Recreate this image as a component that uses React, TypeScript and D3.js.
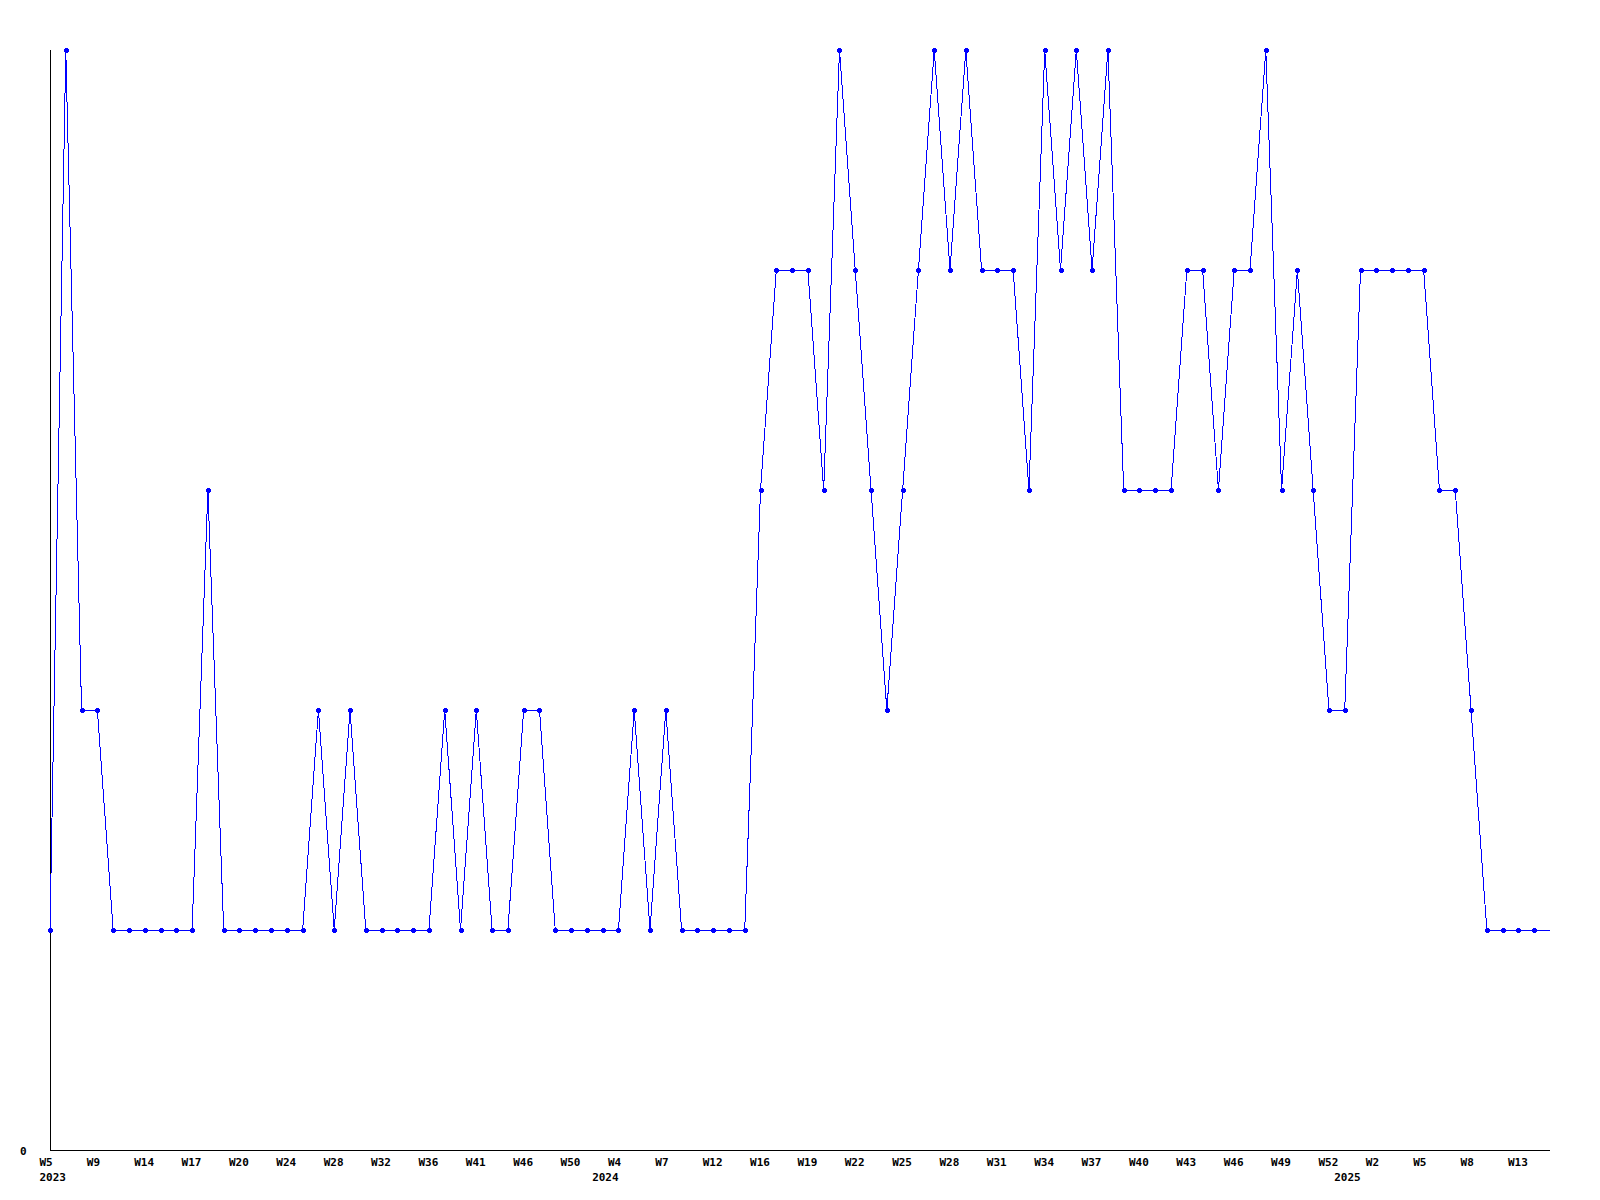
import React from "react";
import * as d3 from "d3";

const values: number[] = [
  1, 5, 2, 2, 1, 1, 1, 1, 1, 1,
  3, 1, 1, 1, 1, 1, 1, 2, 1, 2,
  1, 1, 1, 1, 1, 2, 1, 2, 1, 1,
  2, 2, 1, 1, 1, 1, 1, 2, 1, 2,
  1, 1, 1, 1, 1, 3, 4, 4, 4, 3,
  5, 4, 3, 2, 3, 4, 5, 4, 5, 4,
  4, 4, 3, 5, 4, 5, 4, 5, 3, 3,
  3, 3, 4, 4, 3, 4, 4, 5, 3, 4,
  3, 2, 2, 4, 4, 4, 4, 4, 3, 3,
  2, 1, 1, 1, 1, 1,
];

const weekLabels: string[] = [
  "W5", "W9", "W14", "W17", "W20", "W24", "W28", "W32", "W36", "W41",
  "W46", "W50", "W4", "W7", "W12", "W16", "W19", "W22", "W25", "W28",
  "W31", "W34", "W37", "W40", "W43", "W46", "W49", "W52", "W2", "W5",
  "W8", "W13",
];
const labelEvery = 3;

const yearLabels: { index: number; label: string }[] = [
  { index: 0, label: "2023" },
  { index: 35, label: "2024" },
  { index: 82, label: "2025" },
];

const yTicks: number[] = [0];

export default function App() {
  const W = 1600;
  const H = 1200;
  const left = 50;
  const right = 1550;
  const top = 50;
  const bottom = 1150;

  const x = d3.scaleLinear().domain([0, values.length - 1]).range([left, right]);
  const y = d3.scaleLinear().domain([0, 5]).range([bottom, top]);

  const line = d3
    .line<number>()
    .x((_, i) => x(i))
    .y((d) => y(d));

  const font = "'DejaVu Sans Mono', monospace";

  return (
    <svg
      width={W}
      height={H}
      style={{ position: "absolute", left: 0, top: 0, display: "block", background: "#fff" }}
    >
      <rect x={0} y={0} width={W} height={H} fill="#fff" />
      {/* axes */}
      <line x1={left + 0.5} y1={top} x2={left + 0.5} y2={bottom + 1} stroke="#000" strokeWidth={1} shapeRendering="crispEdges" />
      <line x1={left} y1={bottom + 0.5} x2={right} y2={bottom + 0.5} stroke="#000" strokeWidth={1} shapeRendering="crispEdges" />

      {/* data line */}
      <path d={line(values) || ""} fill="none" stroke="#0000ff" strokeWidth={1} shapeRendering="crispEdges" />
      {values.slice(0, values.length - 1).map((v, i) => {
        const cx = Math.round(x(i));
        const cy = Math.round(y(v));
        return (
          <g key={i} fill="#0000ff">
            <rect x={cx - 2} y={cy - 1} width={5} height={3} />
            <rect x={cx - 1} y={cy - 2} width={3} height={5} />
          </g>
        );
      })}

      {/* y tick labels */}
      {yTicks.map((t) => (
        <text key={t} x={left - 30} y={y(t) + 5} fontFamily={font} fontWeight="bold" fontSize={11} fill="#000">
          {t}
        </text>
      ))}

      {/* x week labels */}
      {weekLabels.map((lab, k) => (
        <text
          key={k}
          x={x(k * labelEvery) - 10.5}
          y={bottom + 16}
          fontFamily={font}
          fontWeight="bold"
          fontSize={11}
          fill="#000"
        >
          {lab}
        </text>
      ))}

      {/* year labels */}
      {yearLabels.map((yl) => (
        <text
          key={yl.label}
          x={x(yl.index) - 10.5}
          y={bottom + 31}
          fontFamily={font}
          fontWeight="bold"
          fontSize={11}
          fill="#000"
        >
          {yl.label}
        </text>
      ))}
    </svg>
  );
}
